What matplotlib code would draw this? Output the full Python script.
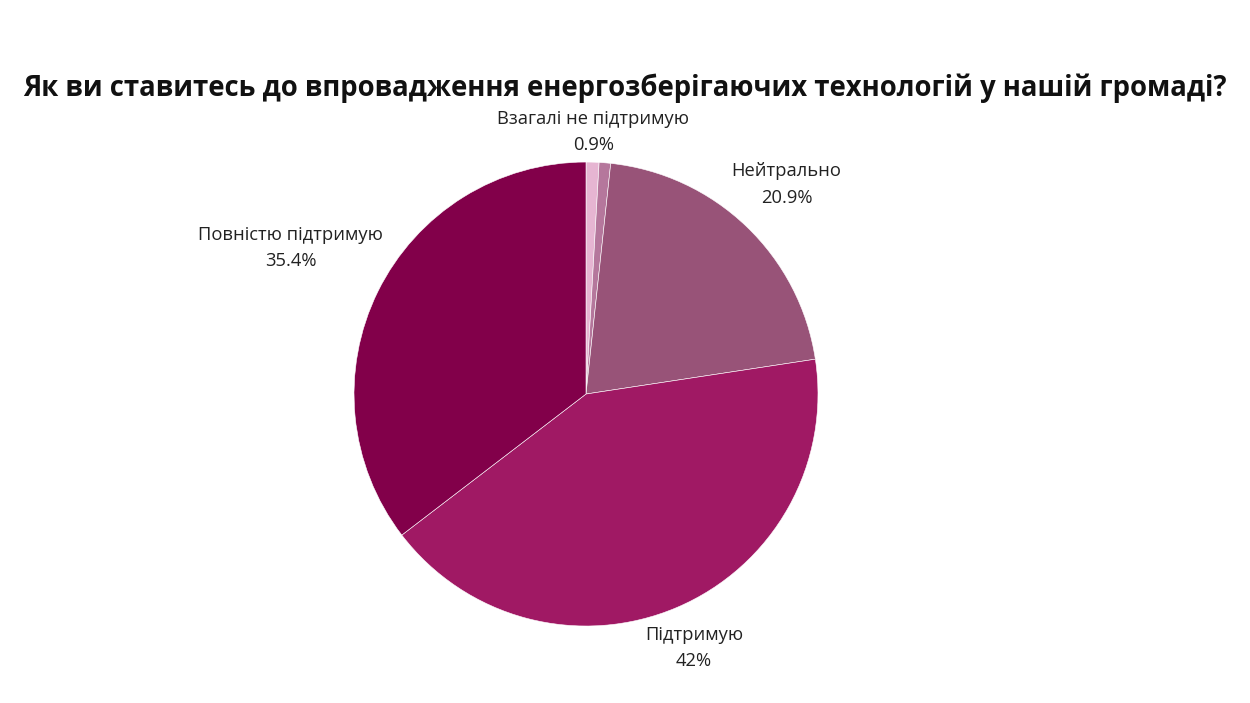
import numpy as np
import matplotlib.pyplot as plt

plt.rcParams['font.family'] = ['Open Sans', 'DejaVu Sans']

# Data
labels = ["Взагалі не підтримую", "", "Нейтрально", "Підтримую", "Повністю підтримую"]
values = [0.9, 0.8, 20.9, 42.0, 35.4]
pct_text = ["0.9%", "", "20.9%", "42%", "35.4%"]
colors = ["#E6B5D2", "#B5779C", "#985378", "#A01964", "#82004A"]
label_dist = [1.13, 0, 1.25, 1.19, 1.42]

fig = plt.figure(figsize=(12.5, 7.03), dpi=100)
ax = fig.add_axes([0.2832, 0.1095, 0.3712, 0.66])

wedges, _ = ax.pie(values, colors=colors, startangle=90, counterclock=False,
                   wedgeprops=dict(edgecolor="white", linewidth=0.4))
ax.set_xlim(-1, 1)
ax.set_ylim(-1, 1)
ax.set_aspect('equal')

# Labels outside the pie
for w, lab, pct, d in zip(wedges, labels, pct_text, label_dist):
    if not lab:
        continue
    ang = np.deg2rad((w.theta1 + w.theta2) / 2)
    x, y = d * np.cos(ang), d * np.sin(ang)
    ax.text(x, y, lab + "\n" + pct, ha='center', va='center',
            fontsize=13.2, color="#222222", linespacing=1.6, clip_on=False)

fig.text(0.5, 0.875, "Як ви ставитесь до впровадження енергозберігаючих технологій у нашій громаді?",
         ha='center', va='center', fontsize=19.8, fontweight='bold', color="#111111")

fig.savefig("out.png", dpi=100, facecolor="white")
